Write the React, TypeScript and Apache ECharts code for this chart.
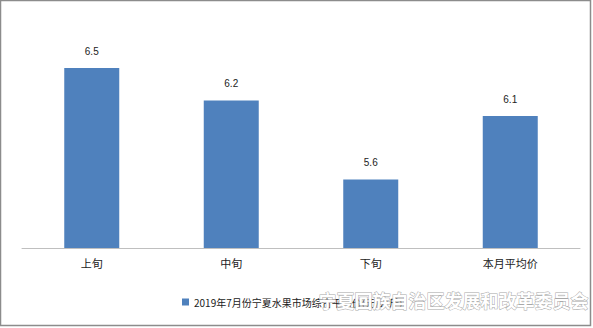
import React, { useEffect, useRef } from "react";
import * as echarts from "echarts";

const categories = ["上旬", "中旬", "下旬", "本月平均价"];
const values = [6.5, 6.23, 5.57, 6.1];
const seriesName = "2019年7月份宁夏水果市场综合平均价(元/公斤)";
const watermark = "宁夏回族自治区发展和改革委员会";

export default function App() {
  const ref = useRef<HTMLDivElement>(null);
  useEffect(() => {
    const chart = echarts.init(ref.current!, null, { renderer: "svg" });
    chart.setOption({
      animation: false,
      backgroundColor: "#fff",
      grid: { left: 22, right: 13, top: 32, bottom: 80 },
      xAxis: {
        type: "category",
        data: categories,
        axisLine: { lineStyle: { color: "#bfbfbf", width: 1 } },
        axisTick: { show: false },
        axisLabel: { color: "#222", fontSize: 11, margin: 9, fontFamily: "Noto Sans CJK SC" },
      },
      yAxis: {
        type: "value",
        min: 5,
        max: 6.8,
        show: false,
        splitLine: { show: false },
      },
      legend: {
        left: 177,
        top: 292,
        itemWidth: 7,
        itemHeight: 7,
        icon: "rect",
        textStyle: { fontSize: 10, color: "#222", fontFamily: "Noto Sans CJK SC" },
        data: [seriesName],
      },
      series: [
        {
          name: seriesName,
          type: "bar",
          data: values,
          barWidth: 55,
          itemStyle: { color: "#4f81bd" },
          label: {
            show: true,
            position: "top",
            distance: 12,
            fontSize: 10,
            color: "#222",
            formatter: (p: any) => Number(p.value).toFixed(1),
          },
        },
      ],
      graphic: [
        {
          type: "rect",
          shape: { x: 0.5, y: 0.5, width: 590, height: 325 },
          style: { fill: "none", stroke: "#8c8c8c", lineWidth: 1.5 },
          silent: true,
        },
        {
          type: "text",
          right: 4,
          top: 290,
          style: {
            text: watermark,
            fontSize: 18,
            fontWeight: "bold",
            fontFamily: "Noto Sans CJK SC",
            fill: "#ffffff",
            stroke: "#a8a8a8",
            lineWidth: 1,
          },
          silent: true,
          z: 100,
        },
      ],
    });
    return () => chart.dispose();
  }, []);
  return (
    <div
      ref={ref}
      style={{ position: "fixed", left: 0, top: 0, width: 593, height: 328 }}
    />
  );
}
